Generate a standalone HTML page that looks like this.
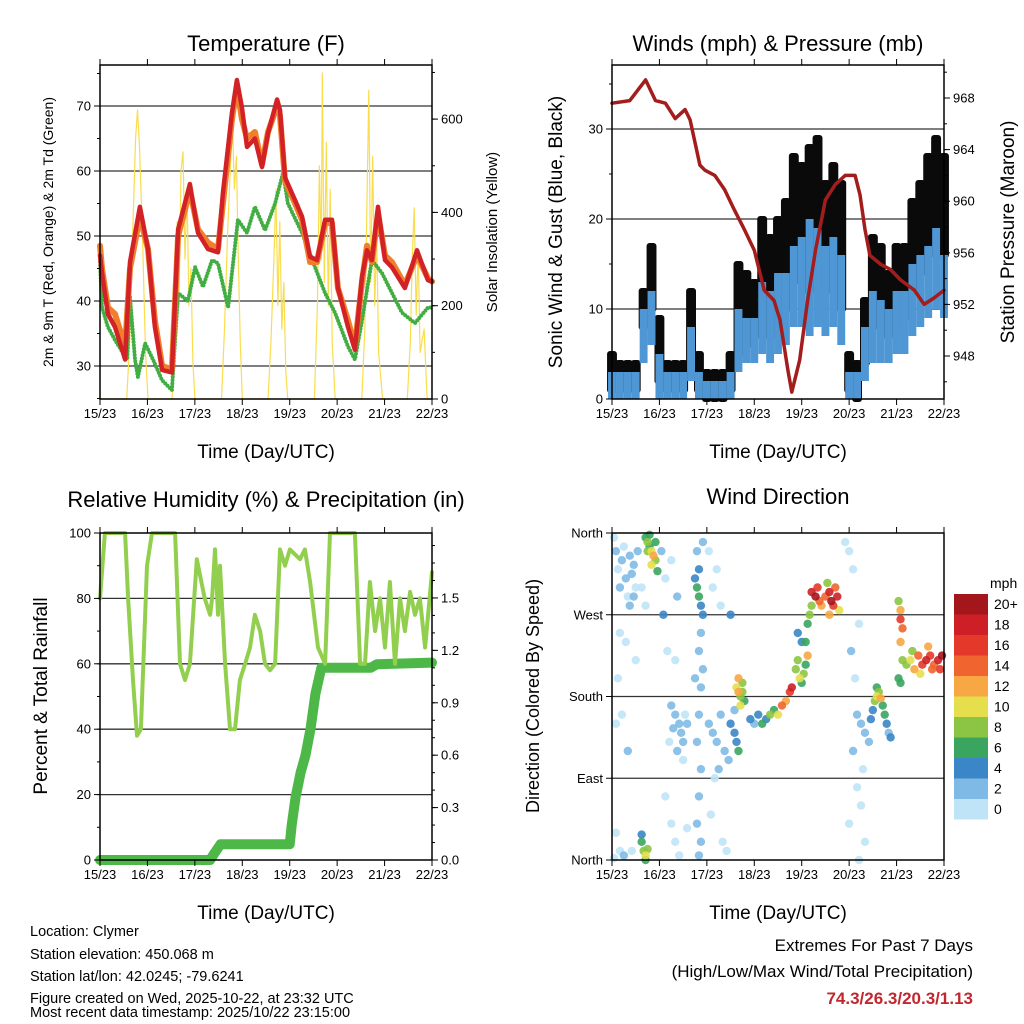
<!DOCTYPE html>
<html><head><meta charset="utf-8"><style>
body{margin:0;background:#fff}
svg{display:block;font-family:"Liberation Sans",sans-serif}
</style></head><body>
<svg id="s" width="1024" height="1024" viewBox="0 0 1024 1024" xmlns="http://www.w3.org/2000/svg">
<g id="texts" fill="#000">
<text x="266" y="51" font-size="22" text-anchor="middle">Temperature (F)</text>
<text x="778" y="51" font-size="22" text-anchor="middle">Winds (mph) &amp; Pressure (mb)</text>
<text x="266" y="507" font-size="22" text-anchor="middle">Relative Humidity (%) &amp; Precipitation (in)</text>
<text x="778" y="504" font-size="22" text-anchor="middle">Wind Direction</text>
<text x="266" y="458" font-size="19" text-anchor="middle">Time (Day/UTC)</text>
<text x="778" y="458" font-size="19" text-anchor="middle">Time (Day/UTC)</text>
<text x="266" y="919" font-size="19" text-anchor="middle">Time (Day/UTC)</text>
<text x="778" y="919" font-size="19" text-anchor="middle">Time (Day/UTC)</text>
<text transform="translate(53,232) rotate(-90)" font-size="14" text-anchor="middle">2m &amp; 9m T (Red, Orange) &amp; 2m Td (Green)</text>
<text transform="translate(497,232) rotate(-90)" font-size="15" text-anchor="middle">Solar Insolation (Yellow)</text>
<text transform="translate(562,232) rotate(-90)" font-size="19" text-anchor="middle">Sonic Wind &amp; Gust (Blue, Black)</text>
<text transform="translate(1014,232) rotate(-90)" font-size="19" text-anchor="middle">Station Pressure (Maroon)</text>
<text transform="translate(47,696) rotate(-90)" font-size="19" text-anchor="middle">Percent &amp; Total Rainfall</text>
<text transform="translate(539,696) rotate(-90)" font-size="18" text-anchor="middle">Direction (Colored By Speed)</text>
<g font-size="14.5">
<text x="30" y="936">Location: Clymer</text>
<text x="30" y="959">Station elevation: 450.068 m</text>
<text x="30" y="981">Station lat/lon: 42.0245; -79.6241</text>
<text x="30" y="1003">Figure created on Wed, 2025-10-22, at 23:32 UTC</text>
<text x="30" y="1017">Most recent data timestamp: 2025/10/22 23:15:00</text>
</g>
<text x="973" y="951" font-size="17" text-anchor="end">Extremes For Past 7 Days</text>
<text x="973" y="977" font-size="17" text-anchor="end">(High/Low/Max Wind/Total Precipitation)</text>
<text x="973" y="1004" font-size="17" font-weight="bold" fill="#c1272d" text-anchor="end">74.3/26.3/20.3/1.13</text>
</g>
</svg>
<script>
const dayLabels=["15/23","16/23","17/23","18/23","19/23","20/23","21/23","22/23"];
// Temperature (hours since start)
const tHours=[0,1,4,7.6,12.7,15.2,20.2,24.3,27.8,31.4,36.4,39.5,45.5,49.6,54.6,59.7,62.2,66.8,69.3,71.8,74.4,78.4,82,85,89.6,91.1,93.6,98.7,102.2,106.3,109.8,113.9,117.4,120.4,125.5,129,132.6,135.1,137.6,140.7,144.2,147.7,154.3,160.4,166,168];
const tRed=[47,44.3,38,36,31,46,54.5,48,36,29.4,29,51,58,50.5,48,47.5,56.6,69,74,69.8,63.7,65,60.6,65.8,71,69.4,59,55.5,53,46.8,46.3,52.5,52.5,42,36,32.5,43.7,47.8,46.3,54.5,46.3,45.2,42,47.8,43.2,43];
const tOrange=[48.5,45,39,38,33,45,53,48,37,30,29.5,50,57,51,49,48,55,68,73,68,65,66,61,66,70,68.5,58.5,55,52.5,46,46,52,52,42,37,33,43,48.5,46,53.5,47,46,42.5,47,43.5,43];
const tdHours=[0,1,4,7.6,13.7,15.2,17.7,19.2,22.8,26.8,31.4,36.4,39.5,44.5,48.1,52.1,56.7,59.7,64.8,69.8,74.4,78.4,83.5,88.6,92.6,95.1,102.2,108.8,113.9,118.9,125.5,129,132.6,137.6,142.7,147.8,152.8,159.4,166,168];
const tdVals=[46,39,36,34,31,40.6,31,28.3,33.5,31,27.8,26.3,41.2,40,45.2,42.2,46.3,45.8,39,52.5,50.5,54.5,50.9,55,59.7,55,50.5,45.2,41.2,38.2,33,31,37,46.3,44.3,41.2,38.2,36.6,39,39];
const solarHours=[0,13.5,15,16.5,18,19,20,21.5,23,24.3,36.5,38,39,40,41,42,43,44,45,46,47,48,61.5,63,64.5,66,67,68,69,70,71,72,85,86.5,88,89,90,91,92,93,94,95,108.5,110,111,112,112.5,113.5,114.5,115.5,116.5,117.5,119,132.5,134,135,136,137,138,139,140,141,143,155.5,157,158,159,160,161,162,164,165.5,168];
const solarVals=[0,0,120,350,560,620,540,350,100,0,0,150,380,200,490,530,300,450,200,280,80,0,0,150,350,500,594,450,520,300,120,0,0,120,300,448,200,380,150,250,60,0,0,200,500,300,699,250,550,200,450,120,0,0,150,400,662,250,520,200,350,100,0,0,120,300,410,180,320,100,150,0,0];
// Winds
const wHours=[0,4,8,12,16,20,24,28,32,36,40,44,48,52,56,60,64,68,72,76,80,84,88,92,96,100,104,108,112,116,120,124,128,132,136,140,144,148,152,156,160,164,168];
const gustHi=[5,4,4,4,12,17,9,4,4,4,12,5,3,3,3,5,15,14,13,20,18,20,22,27,26,28,29,24,26,24,5,4,11,18,17,14,17,17,22,24,27,29,27];
const gustLo=[1,1,1,1,8,10,2,1,1,1,3,1,0,0,0,1,5,6,7,8,7,8,10,14,13,12,14,12,14,10,1,0,4,8,8,7,8,9,12,14,16,18,16];
const windHi=[3,3,3,3,10,12,5,3,3,3,8,3,2,2,2,3,10,9,9,13,12,14,14,17,18,20,19,17,18,16,3,3,8,12,11,10,12,12,15,16,17,19,16];
const windLo=[0,0,0,0,4,6,0,0,0,0,2,0,0,0,0,0,3,4,4,5,4,5,6,8,8,7,8,7,8,6,0,0,2,4,4,4,5,5,7,8,9,10,9];
const pHours=[0,9,17,22,27,32,37,39.5,44.5,47,52,57,62,67,72,77,82,85,89,91,95,99,103,108,113,118,123,125.5,128,130.5,136,141,146,153,158,163,168];
const pVals=[967.6,967.8,969.4,967.8,967.6,966.4,967.1,966.3,962.8,962.4,962.0,960.9,959.3,957.8,956.2,953.1,952.3,950.8,946.9,945.2,947.7,952.3,956.2,960.1,961.3,962.0,962.0,960.5,957.8,955.8,955.1,954.7,953.9,953.1,952.0,952.5,953.1];
// RH & precip
const rhHours=[0,2.5,12.7,14.2,16.7,18.7,20.7,23.8,26.3,38,40.5,43,45.5,49,53,55.7,56.7,58.2,59.7,60.7,63.3,65.8,68.3,70.8,73.4,75.9,78.4,81,83.5,86,88.6,91.1,93.6,96.1,101.2,103.7,106.3,110.3,113.9,116.4,129,131.6,134.1,136.6,139.2,141.7,144.2,146.7,149.3,151.8,154.3,156.9,159.4,161.9,164.5,168];
const rhVals=[80,100,100,80,55,38,40,90,100,100,60,55,60,92,80,75,80,95,75,90,60,40,40,55,60,65,75,70,60,58,60,95,90,95,92,95,85,65,60,100,100,60,60,85,70,80,65,85,60,80,70,82,75,80,65,88];
const prHours=[0,55.7,58,61,96,97,99,101.5,104,106.5,109,112,137,140,168];
const prVals=[0,0,0.04,0.09,0.09,0.2,0.36,0.5,0.6,0.75,0.95,1.1,1.1,1.12,1.13];
// Wind direction points: hour, degrees (0=N,90=E,180=S,270=W), speed
const dirHours=[1,2,3,4,5,6,7,8,9,10,11,12,13,3,2,5,8,2,4,6,1,10,7,4,12,15,17,9,11,
17,18,19,20,21,22,19,20,18,22,23,15,16,17,18,15,17,
25,27,30,33,26,28,32,30,32,34,35,36,37,33,31,29,38,36,27,30,32,34,38,
42,43,44,45,46,44,43,45,44,46,45,44,43,45,44,43,45,44,46,42,
49,51,53,55,57,59,60,62,63,64,62,54,52,50,56,58,49,53,51,55,60,
63,64,65,66,67,65,64,66,
70,72,74,76,78,80,82,84,86,88,90,91,
93,94,95,96,97,98,99,98,99,100,101,96,94,
101,103,104,105,106,108,110,111,112,113,114,115,110,109,
118,120,122,125,121,123,124,126,128,122,127,124,126,120,128,125,130,131,132,
133,134,135,136,137,138,139,140,141,134,
145,146,146,147,146,147,145,146,
149,151,153,155,157,159,161,163,165,167,166,160,156,162,152];
const dirDeg=[355,340,320,300,330,345,310,290,335,315,325,300,340,200,150,160,120,30,10,5,2,10,240,250,220,300,280,280,290,
355,350,345,340,335,330,358,325,340,350,318,20,10,5,12,28,0,
340,310,330,290,270,230,220,170,160,150,140,130,160,120,145,130,150,110,70,40,20,5,35,
310,300,290,280,270,320,340,250,230,210,190,160,130,100,70,40,20,5,350,200,
150,140,130,160,120,110,150,140,130,120,165,100,90,50,20,10,340,320,300,280,270,
190,185,180,195,175,170,200,185,
155,150,160,150,155,160,165,160,170,175,185,190,
210,220,200,195,205,215,225,240,260,270,280,240,250,
295,290,300,285,280,290,295,285,280,300,290,275,270,305,
350,340,320,260,230,200,160,150,140,120,100,80,60,40,20,0,130,155,165,
175,180,185,178,170,160,150,140,135,190,
285,275,265,255,240,220,200,195,
215,220,210,225,215,220,225,215,220,225,210,235,205,210,230];
const dirSpd=[1,2,1,2,3,1,2,1,3,2,3,1,2,1,1,1,2,1,1,2,1,1,1,1,1,1,1,2,3,
7,8,6,10,12,9,7,10,8,6,7,6,9,10,8,5,6,
2,1,1,2,4,1,1,2,2,3,2,2,1,2,2,1,2,1,1,1,1,1,1,
4,6,6,4,5,4,3,3,3,2,2,3,3,2,3,2,2,2,3,2,
2,3,2,3,2,3,4,4,5,6,3,2,1,1,1,1,1,1,1,1,4,
10,12,8,9,7,11,12,8,
4,3,5,6,4,8,7,10,14,12,16,18,
8,9,10,7,8,6,12,6,7,9,8,5,4,
18,20,16,15,12,14,18,20,16,14,18,10,12,8,
1,1,1,1,2,1,2,3,2,2,1,1,1,1,1,1,3,5,4,
8,10,9,12,7,6,4,3,4,6,
8,12,16,14,12,9,6,7,
8,10,12,14,16,18,16,14,18,20,16,12,10,14,9];
const speedLabels=["20+","18","16","14","12","10","8","6","4","2","0"];
const speedColors=["#a3161c","#cd1f25","#e4382b","#f0652f","#f7a743","#e5df4e","#8bc543","#3aa55f","#3b86c7","#7fbae6","#bfe4f7"];

const NS="http://www.w3.org/2000/svg";
const svg=document.getElementById('s');
function mk(tag,attrs,parent){const e=document.createElementNS(NS,tag);for(const k in attrs)e.setAttribute(k,attrs[k]);(parent||svg).appendChild(e);return e;}
function panel(x0,x1,y0,y1,name){
  const g=mk('g',{});
  
  
  return {x0,x1,y0,y1,g,xs:h=>x0+h*(x1-x0)/168};
}
function frame(P,grid){
  grid.forEach(y=>mk('line',{x1:P.x0,x2:P.x1,y1:y,y2:y,stroke:'#333','stroke-width':1.3},P.g));
}
function border(P,name){
  const r=mk('rect',{x:P.x0,y:P.y0,width:P.x1-P.x0,height:P.y1-P.y0,fill:'none',stroke:'#000','stroke-width':1.5},P.g);
  
  
  for(let d=0;d<=7;d++){const x=P.x0+d*(P.x1-P.x0)/7;
    mk('line',{x1:x,x2:x,y1:P.y1,y2:P.y1+6,stroke:'#000'},P.g);
    mk('line',{x1:x,x2:x,y1:P.y0,y2:P.y0-6,stroke:'#000'},P.g);
    const t=mk('text',{x:x,y:P.y1+19,'font-size':13,'text-anchor':'middle'},P.g);t.textContent=dayLabels[d];
    
    
  }
}
function yTicks(P,side,vals,scale,labels,minor){
  const x=side==='l'?P.x0:P.x1, dir=side==='l'?-1:1;
  minor.forEach(v=>mk('line',{x1:x,x2:x+dir*3,y1:scale(v),y2:scale(v),stroke:'#000'},P.g));
  vals.forEach((v,i)=>{const y=scale(v);
    mk('line',{x1:x,x2:x+dir*6,y1:y,y2:y,stroke:'#000'},P.g);
    const t=mk('text',{x:x+dir*9,y:y+4.5,'font-size':13,'text-anchor':side==='l'?'end':'start'},P.g);t.textContent=labels[i];
    
    
  });
}
function path(P,hs,vs,ys,attrs,name){
  const d=hs.map((h,i)=>(i?'L':'M')+P.xs(h).toFixed(1)+','+ys(vs[i]).toFixed(1)).join('');
  const p=mk('path',Object.assign({d,fill:'none','stroke-linejoin':'round','stroke-linecap':'round'},attrs),P.g);
  
  
  return p;
}
function range(a,b,s){const r=[];for(let v=a;v<=b+1e-9;v+=s)r.push(+v.toFixed(3));return r;}

// Panel 1 temperature
const P1=panel(100,432,65,399,'temperature-panel');
const yT=v=>366-(v-30)*6.5, yS=v=>399-v*93.3/200;
frame(P1,[30,40,50,60,70].map(yT));
path(P1,solarHours,solarVals,yS,{stroke:'#f9dd4f','stroke-width':1.2},'solar-line');
path(P1,tdHours,tdVals,yT,{stroke:'#42ad43','stroke-width':4,'stroke-dasharray':'0 3.2'},'dewpoint-series');
path(P1,tHours,tOrange,yT,{stroke:'#f07f2c','stroke-width':6},'temp-9m-line');
path(P1,tHours,tRed,yT,{stroke:'#d22226','stroke-width':4.5},'temp-2m-line');
yTicks(P1,'l',[30,40,50,60,70],yT,['30','40','50','60','70'],range(25,75,5));
yTicks(P1,'r',[0,200,400,600],yS,['0','200','400','600'],range(0,700,100));
border(P1,'temperature-plot-frame');

// Panel 2 winds
const P2=panel(612,944,65,399,'winds-panel');
const yW=v=>399-v*9, yP=v=>356-(v-948)*12.9;
frame(P2,[10,20,30].map(yW));
const bw=(P2.x1-P2.x0)/42;
wHours.forEach((h,i)=>{
  const r=mk('rect',{x:P2.xs(h)-bw/2-1,y:yW(gustHi[i])-3,width:bw+2,height:Math.max(4,yW(gustLo[i])-yW(gustHi[i])+6),fill:'#0a0a0a',rx:3},P2.g);
  
  
});
wHours.forEach((h,i)=>{
  const r=mk('rect',{x:P2.xs(h)-bw/2,y:yW(windHi[i]),width:bw,height:Math.max(2,yW(windLo[i])-yW(windHi[i])),fill:'#4f97d4'},P2.g);
  
  
});
path(P2,pHours,pVals,yP,{stroke:'#a31d1d','stroke-width':3.5},'pressure-line');
yTicks(P2,'l',[0,10,20,30],yW,['0','10','20','30'],range(0,35,5));
yTicks(P2,'r',[948,952,956,960,964,968],yP,['948','952','956','960','964','968'],range(946,970,2));
border(P2,'winds-plot-frame');

// Panel 3 RH
const P3=panel(100,432,533,860,'humidity-panel');
const yR=v=>860-v*3.27, yPr=v=>860-v*174.7;
frame(P3,[20,40,60,80].map(yR));
path(P3,prHours,prVals,yPr,{stroke:'#4db848','stroke-width':10},'precip-line');
path(P3,rhHours,rhVals,yR,{stroke:'#93cf4f','stroke-width':4},'rh-line');
yTicks(P3,'l',[0,20,40,60,80,100],yR,['0','20','40','60','80','100'],range(0,100,10));
yTicks(P3,'r',[0,0.3,0.6,0.9,1.2,1.5],yPr,['0.0','0.3','0.6','0.9','1.2','1.5'],range(0,1.8,0.1));
border(P3,'humidity-plot-frame');

// Panel 4 direction
const P4=panel(612,944,533,860,'wind-direction-panel');
const yD=v=>860-v*327/360;
frame(P4,[90,180,270].map(yD));
function bin(s){return 10-Math.min(10,Math.floor(s/2));}
const order=dirHours.map((h,i)=>i).sort((a,b)=>dirSpd[a]-dirSpd[b]);
order.forEach(i=>{
  const c=mk('circle',{cx:P4.xs(dirHours[i]),cy:yD(dirDeg[i]),r:4.2,fill:speedColors[bin(dirSpd[i])],opacity:0.9},P4.g);
  
  
});
yTicks(P4,'l',[0,90,180,270,360],yD,['North','East','South','West','North'],[]);
border(P4,'direction-plot-frame');
// colorbar
const cb=mk('g',{});


const cbT=mk('text',{x:990,y:588,'font-size':14},cb);cbT.textContent='mph';
speedLabels.forEach((l,i)=>{
  const y=594+i*20.5;
  const r=mk('rect',{x:954,y:y,width:34,height:20.5,fill:speedColors[i]},cb);
  
  
  const t=mk('text',{x:994,y:y+15,'font-size':14},cb);t.textContent=l;
  
  
});
</script>
</body></html>
